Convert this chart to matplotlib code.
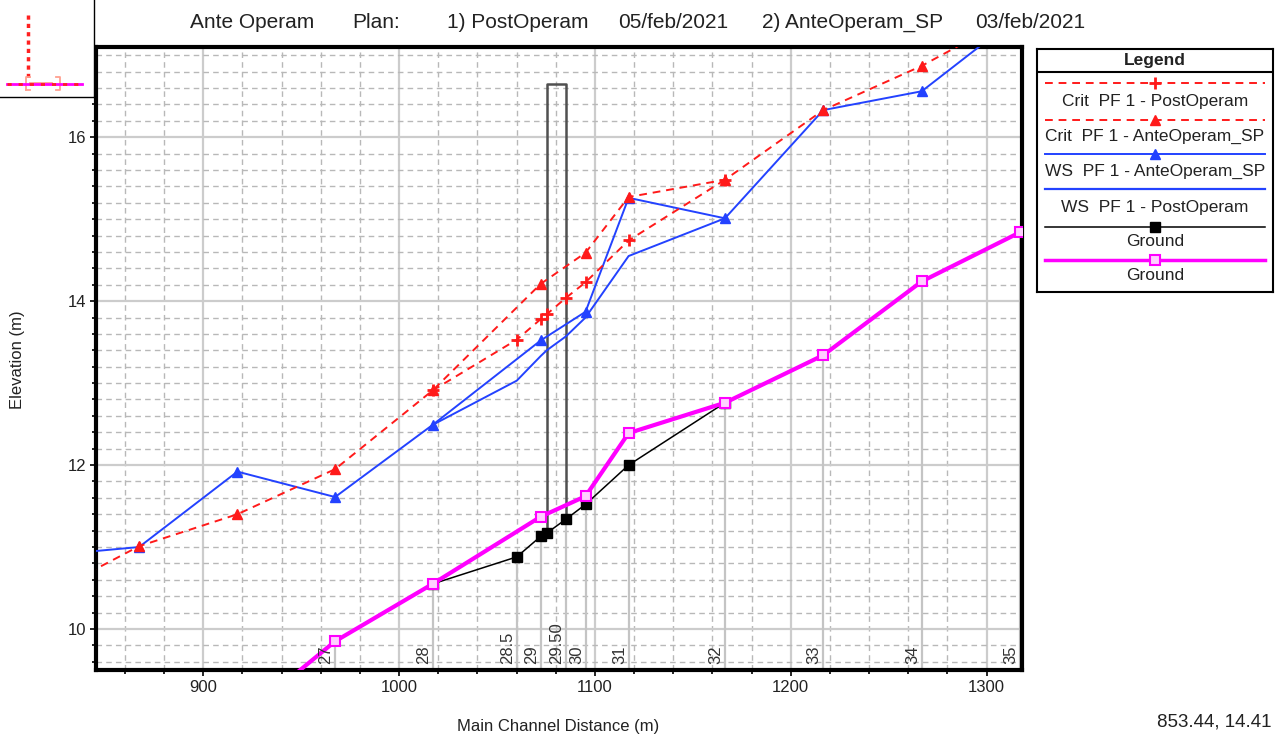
import numpy as np
import matplotlib
matplotlib.use('Agg')
import matplotlib.pyplot as plt
from matplotlib.ticker import MultipleLocator

plt.rcParams['font.family'] = ['Liberation Sans', 'DejaVu Sans']

# river stations shown along the bottom, main channel distance (m)
rs_labels = ['27', '28', '28.5', '29', '29.50', '30', '31', '32', '33', '34', '35']
rs_dist = [967.3, 1017.1, 1060.1, 1072.3, 1085.2, 1095.2, 1117.2, 1166.4, 1216.6, 1266.9, 1317.1]

# plan 2) AnteOperam_SP
ante_dist = [817.0, 867.2, 917.4, 967.3, 1017.1, 1072.3, 1095.2, 1117.2, 1166.4, 1216.6, 1266.9, 1317.1]
ante_crit = [10.38, 11.01, 11.40, 11.95, 12.91, 14.21, 14.59, 15.27, 15.48, 16.33, 16.87, 17.52]
ante_ws = [10.89, 11.00, 11.92, 11.61, 12.49, 13.52, 13.87, 15.26, 15.01, 16.33, 16.56, 17.49]
ante_gdist = [917.4, 967.3, 1017.1, 1072.3, 1095.2, 1117.2, 1166.4, 1216.6, 1266.9, 1317.1]
ante_ground = [8.87, 9.85, 10.55, 11.37, 11.62, 12.39, 12.76, 13.34, 14.24, 14.84]

# plan 1) PostOperam (modified reach 28 - 32, bridge between 29 and 30)
post_dist = [1017.1, 1060.1, 1072.3, 1075.4, 1085.2, 1095.2, 1117.2, 1166.4]
post_crit = [12.91, 13.53, 13.78, 13.84, 14.04, 14.23, 14.74, 15.48]
post_ws = [12.49, 13.03, 13.33, 13.40, 13.57, 13.80, 14.55, 15.01]
post_ground = [10.55, 10.88, 11.13, 11.17, 11.34, 11.52, 12.00, 12.76]
bridge_faces = [1075.4, 1085.2]
bridge_top = 16.65

xmin, xmax = 845.2, 1318.1
ymin, ymax = 9.5, 17.1

RED = '#ff1a1a'
BLUE = '#2342ff'
MAG = '#ff00ff'
TXT = '#222222'

fig = plt.figure(figsize=(12.8, 7.38), dpi=100)
W, H = 1280, 738
ax = fig.add_axes([96 / W, 1 - 670 / H, (1022 - 96) / W, (670 - 47) / H])

ax.set_xlim(xmin, xmax)
ax.set_ylim(ymin, ymax)

# grid
ax.xaxis.set_major_locator(MultipleLocator(100))
ax.xaxis.set_minor_locator(MultipleLocator(20))
ax.yaxis.set_major_locator(MultipleLocator(2))
ax.yaxis.set_minor_locator(MultipleLocator(0.2))
ax.grid(which='minor', color='#b8b8b8', lw=1, ls=(0, (4, 3)), zorder=0)
ax.grid(which='major', color='#cccccc', lw=1.6, ls='-', zorder=0)
ax.set_axisbelow(True)

# station lines under the ground
for d in rs_dist:
    if post_dist[0] <= d <= post_dist[-1]:
        g = np.interp(d, post_dist, post_ground)
    else:
        g = np.interp(d, ante_gdist, ante_ground)
    ax.plot([d, d], [ymin, g], color='#c4c4c4', lw=1.6, zorder=1)

# bridge
ax.plot([bridge_faces[0], bridge_faces[0], bridge_faces[1], bridge_faces[1]],
        [post_ground[3], bridge_top, bridge_top, post_ground[4]],
        color='#505050', lw=1.8, zorder=2)

# ground
ax.plot(post_dist, post_ground, color='black', lw=1.1, marker='s', ms=7, zorder=3)
ax.plot(ante_gdist, ante_ground, color=MAG, lw=3, marker='s', ms=7,
        mfc='#ffd0ff', mec=MAG, mew=1.5, zorder=4)

# water surfaces
ax.plot(post_dist, post_ws, color=BLUE, lw=1.4, zorder=5)
ax.plot(ante_dist, ante_ws, color=BLUE, lw=1.4, marker='^', ms=6.5, zorder=6)

# critical depth
ax.plot(post_dist, post_crit, color=RED, lw=1.4, ls=(0, (4, 3)), marker='+', ms=8,
        mew=2, zorder=7)
ax.plot(ante_dist, ante_crit, color=RED, lw=1.4, ls=(0, (4, 3)), marker='^', ms=6.5,
        zorder=8)

# river station labels
for d, lab in zip(rs_dist, rs_labels):
    ax.text(d - 0.8, ymin + 0.07, lab, rotation=90, rotation_mode='anchor',
            ha='left', va='bottom', fontsize=12, color='#333333', zorder=9)

for s in ax.spines.values():
    s.set_linewidth(3)
    s.set_color('black')
ax.tick_params(which='major', direction='out', length=4, width=1.2, labelsize=12, pad=3,
               labelcolor=TXT)
ax.tick_params(which='minor', direction='out', length=3, width=1.2)

fig.text(18 / W, 1 - 360 / H, 'Elevation (m)', rotation=90, ha='center', va='center',
         fontsize=12, color=TXT)
fig.text(558 / W, 1 - 727 / H, 'Main Channel Distance (m)', ha='center', va='center',
         fontsize=12, color=TXT)
fig.text(1214 / W, 1 - 722 / H, '853.44, 14.41', ha='center', va='center', fontsize=13.5,
         color=TXT)

# title pieces
title_parts = ['Ante Operam', 'Plan:', '1) PostOperam', '05/feb/2021', '2) AnteOperam_SP', '03/feb/2021']
title_x = [190, 352, 447, 618, 762, 975]
for tx, tt in zip(title_x, title_parts):
    fig.text(tx / W, 1 - 22 / H, tt, ha='left', va='center', fontsize=15, color=TXT)

# small locator icon top-left
ic = fig.add_axes([0, 1 - 97 / H, 94 / W, 97 / H])
ic.set_xlim(0, 94)
ic.set_ylim(97, 0)
ic.set_xticks([])
ic.set_yticks([])
for k in ['top', 'left']:
    ic.spines[k].set_visible(False)
ic.spines['right'].set_linewidth(1)
ic.spines['bottom'].set_linewidth(1)
ic.plot([28, 28], [15, 78], color='#ff2020', lw=2.5, ls=(0, (1.2, 1.2)))
ic.plot([26, 26, 30], [90, 77, 77], color='#ffa090', lw=1.3)
ic.plot([26, 30], [90, 90], color='#ffa090', lw=1.3)
ic.plot([56, 60, 60, 56], [77, 77, 90, 90], color='#ffa090', lw=1.3)
ic.plot([30, 52], [83, 83], color='#ffa090', lw=1.3)
ic.plot([7, 82], [84, 84], color=MAG, lw=2)
ic.plot([7, 82], [84, 84], color='#ff2020', lw=2, ls=(0, (1.5, 2.5)))

# legend box
lg = fig.add_axes([1036.7 / W, 1 - 292.3 / H, 236.6 / W, 243.3 / H])
lg.set_xlim(0, 236.6)
lg.set_ylim(243.3, 0)
lg.set_xticks([])
lg.set_yticks([])
for s in lg.spines.values():
    s.set_linewidth(1.5)
lg.text(118.3, 11, 'Legend', ha='center', va='center', fontsize=12.5, fontweight='bold',
        color=TXT)
lg.plot([0, 236.6], [23.3, 23.3], color='black', lw=1.5)

leg_names = ['Crit  PF 1 - PostOperam', 'Crit  PF 1 - AnteOperam_SP', 'WS  PF 1 - AnteOperam_SP',
             'WS  PF 1 - PostOperam', 'Ground', 'Ground']
leg_styles = [
    dict(color=RED, lw=1.4, ls=(0, (4, 3)), marker='+', ms=8, mew=2),
    dict(color=RED, lw=1.4, ls=(0, (4, 3)), marker='^', ms=6.5),
    dict(color=BLUE, lw=1.4, marker='^', ms=6.5),
    dict(color=BLUE, lw=1.6),
    dict(color='black', lw=1.1, marker='s', ms=7),
    dict(color=MAG, lw=2.5, marker='s', ms=7, mfc='#ffd0ff', mec=MAG, mew=1.5),
]
leg_line_y = [34.3, 71, 105, 140.3, 177.7, 211]
leg_text_y = [52.7, 87.7, 122.7, 158.7, 192.7, 227]
for name, st, ly, ty in zip(leg_names, leg_styles, leg_line_y, leg_text_y):
    lg.plot([8.3, 228.3], [ly, ly], **{k: v for k, v in st.items()
                                        if k not in ('marker', 'ms', 'mew', 'mfc', 'mec')})
    if 'marker' in st:
        lg.plot([118.3], [ly], ls='none', **{k: v for k, v in st.items() if k not in ('lw', 'ls')})
    lg.text(118.3, ty, name, ha='center', va='center', fontsize=12.5, color=TXT)

fig.savefig('out.png', dpi=100)
